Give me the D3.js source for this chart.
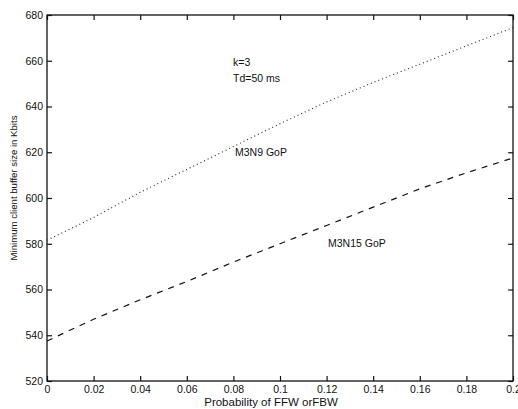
<!DOCTYPE html>
<html><head><meta charset="utf-8">
<script src="https://cdn.jsdelivr.net/npm/d3@7"></script>
<style>body{margin:0;background:#fff}svg{display:block}text{font-family:"Liberation Sans",Arial,sans-serif;fill:#111}</style>
</head><body><svg id="c" width="518" height="409"></svg>
<script>
const probs = [0,0.02,0.04,0.06,0.08,0.10,0.12,0.14,0.16,0.18,0.20];
const m3n9 = [581.5,591.5,602.5,612.5,622.5,632.5,642,650.5,658.5,666.5,674.5];
const m3n15 = [537.5,547,555.5,563.5,572,580,588,596,604,611,617.5];
const xTicks = [0,0.02,0.04,0.06,0.08,0.1,0.12,0.14,0.16,0.18,0.2];
const xTickLabels = ["0","0.02","0.04","0.06","0.08","0.1","0.12","0.14","0.16","0.18","0.2"];
const yTicks = [520,540,560,580,600,620,640,660,680];

const svg = d3.select("#c");
const L=47,R=513,T=15,B=381;
const x = d3.scaleLinear().domain([0,0.2]).range([L,R]);
const y = d3.scaleLinear().domain([520,680]).range([B,T]);

const g = svg.append("g");
g.append("rect").attr("x",L).attr("y",T).attr("width",R-L).attr("height",B-T)
 .attr("fill","none").attr("stroke","#111").attr("stroke-width",1.3);

const fmt = d => xTickLabels[xTicks.indexOf(d)];
const ax1 = g.append("g").attr("transform",`translate(0,${B})`)
 .call(d3.axisBottom(x).tickValues(xTicks).tickFormat(fmt).tickSizeInner(-5).tickSizeOuter(0).tickPadding(5));
const ax2 = g.append("g").attr("transform",`translate(0,${T})`)
 .call(d3.axisTop(x).tickValues(xTicks).tickFormat("").tickSizeInner(-5).tickSizeOuter(0));
const ay1 = g.append("g").attr("transform",`translate(${L},0)`)
 .call(d3.axisLeft(y).tickValues(yTicks).tickSizeInner(-5).tickSizeOuter(0).tickPadding(4));
const ay2 = g.append("g").attr("transform",`translate(${R},0)`)
 .call(d3.axisRight(y).tickValues(yTicks).tickFormat("").tickSizeInner(-5).tickSizeOuter(0));
[ax1,ax2,ay1,ay2].forEach(a=>{
  a.select(".domain").remove();
  a.selectAll("line").attr("stroke","#111").attr("stroke-width",1.2);
  a.selectAll("text").attr("font-size",10.5).attr("fill","#111").attr("font-family","Liberation Sans, Arial, sans-serif");
});

const line = d3.line().x(d=>x(d[0])).y(d=>y(d[1]));
g.append("path").datum(probs.map((p,i)=>[p,m3n9[i]])).attr("d",line)
 .attr("fill","none").attr("stroke","#222").attr("stroke-width",1.1).attr("stroke-dasharray","1,3");
g.append("path").datum(probs.map((p,i)=>[p,m3n15[i]])).attr("d",line)
 .attr("fill","none").attr("stroke","#111").attr("stroke-width",1.2).attr("stroke-dasharray","6,6");

const txt=(s,tx,ty,opts={})=>{const t=g.append("text").attr("x",tx).attr("y",ty).attr("font-size",opts.fs||10.5).text(s);
 if(opts.anchor) t.attr("text-anchor",opts.anchor); return t;};
txt("k=3",233,66);
txt("Td=50 ms",233,82);
txt("M3N9 GoP",235,156);
txt("M3N15 GoP",328,247);
txt("Probability of FFW orFBW",271,406,{anchor:"middle",fs:11.5});
g.append("text").attr("transform","translate(17,188) rotate(-90)").attr("text-anchor","middle")
 .attr("font-size",9.6).text("Minimum client buffer size in Kbits");
</script></body></html>
